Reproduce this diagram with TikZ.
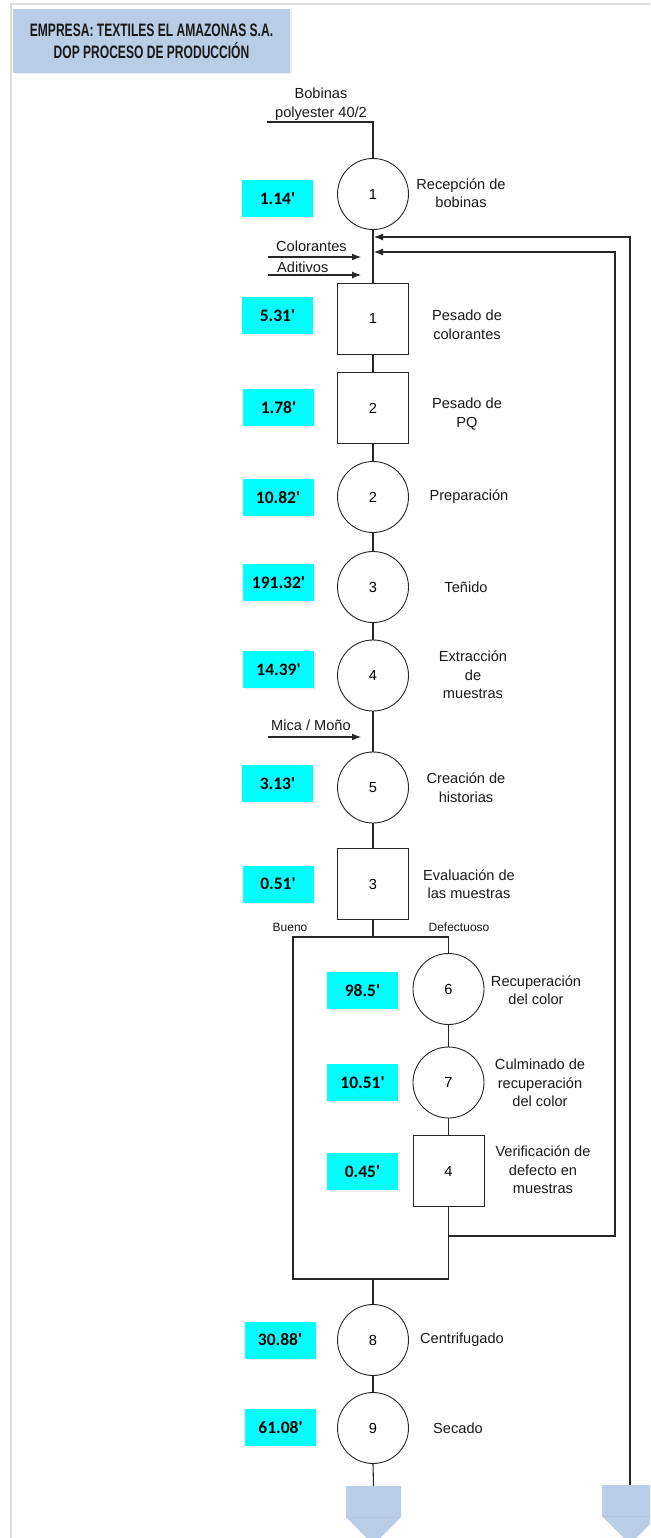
\documentclass[tikz,border=0pt]{standalone}
\usepackage{fontspec}
\setmainfont{Liberation Sans}
\newfontfamily\timefont{Carlito}
\usetikzlibrary{arrows.meta,shadows}

\definecolor{titlefill}{HTML}{B9CDE5}
\definecolor{connfill}{HTML}{B9CDE8}
\definecolor{timefill}{HTML}{00FFFF}
\definecolor{framegray}{HTML}{DCDCDC}

\tikzset{
  flow/.style={line width=1.1pt, draw=black!85},
  opcircle/.style={circle, draw=black!85, line width=0.9pt, fill=white,
    minimum size=71pt, inner sep=0pt, font=\fontsize{14.6}{17}\selectfont},
  inspbox/.style={rectangle, draw=black!85, line width=0.9pt, fill=white,
    minimum size=71pt, inner sep=0pt, font=\fontsize{14.6}{17}\selectfont},
  lbl/.style={align=center, inner sep=0pt, font=\fontsize{14.6}{18.5}\selectfont, text=black!90},
  small/.style={inner sep=0pt, font=\fontsize{12}{14}\selectfont, text=black!90},
  timebox/.style={rectangle, fill=timefill, minimum width=71pt, minimum height=37pt,
    inner sep=0pt, font=\timefont\bfseries\fontsize{17.5}{19}\selectfont,
    drop shadow={opacity=0.12, shadow xshift=1.5pt, shadow yshift=-1.5pt}},
  arr/.style={flow, -{Latex[length=9pt,width=7pt]}},
}

\begin{document}
\begin{tikzpicture}[x=1pt,y=-1pt]
\useasboundingbox (0,0) rectangle (650,1538);
\clip (0,0) rectangle (650,1538);

% page frame
\draw[framegray, line width=2pt] (10.5,4.5) rectangle (700,1600);

% title
\node[rectangle, fill=titlefill, minimum width=277pt, minimum height=64pt, inner sep=0pt,
  drop shadow={opacity=0.15, shadow xshift=1.5pt, shadow yshift=-1.5pt},
  align=center, font=\bfseries\fontsize{18}{22}\selectfont, text=black!90]
  (title) at (151.5,41) {\scalebox{0.67}[1]{EMPRESA: TEXTILES EL AMAZONAS S.A.}\\
  \scalebox{0.67}[1]{DOP PROCESO DE PRODUCCI\'ON}};

% input of bobinas
\node[lbl] (bobtxt) at (321,104) {Bobinas\\polyester 40/2};
\coordinate (bobin) at (267,122);
\coordinate (bobcorner) at (373,122);

% main column of operations and inspections
\node[opcircle] (c1) at (373,194) {1};
\node[inspbox] (s1) at (373,318.5) {1};
\node[inspbox] (s2) at (373,408) {2};
\node[opcircle] (c2) at (373,497) {2};
\node[opcircle] (c3) at (373,587) {3};
\node[opcircle] (c4) at (373,675.5) {4};
\node[opcircle] (c5) at (373,787.5) {5};
\node[inspbox] (s3) at (373,884) {3};
\node[opcircle] (c6) at (448.5,989) {6};
\node[opcircle] (c7) at (448.5,1082.5) {7};
\node[inspbox] (s4) at (448.5,1171) {4};
\node[opcircle] (c8) at (373,1340) {8};
\node[opcircle] (c9) at (373,1428) {9};

% descriptions
\node[lbl] (l1) at (461,193) {Recepci\'on de\\bobinas};
\node[lbl] (l2) at (467,325) {Pesado de\\colorantes};
\node[lbl] (l3) at (467,414) {Pesado de\\PQ};
\node[lbl] (l4) at (469,497) {Preparaci\'on};
\node[lbl] (l5) at (466,587) {Te\~nido};
\node[lbl] (l6) at (473,675) {Extracci\'on\\de\\muestras};
\node[lbl] (l7) at (466,787.5) {Creaci\'on de\\historias};
\node[lbl] (l8) at (469,884) {Evaluaci\'on de\\las muestras};
\node[lbl] (l9) at (536,990) {Recuperaci\'on\\del color};
\node[lbl] (l10) at (540,1083) {Culminado de\\recuperaci\'on\\del color};
\node[lbl] (l11) at (543,1170) {Verificaci\'on de\\defecto en\\muestras};
\node[lbl] (l12) at (462,1340) {Centrifugado};
\node[lbl] (l13) at (458,1428) {Secado};

% times
\node[timebox] (t1) at (277.5,198.5) {1.14'};
\node[timebox] (t2) at (277.5,315.5) {5.31'};
\node[timebox] (t3) at (278.5,407.5) {1.78'};
\node[timebox] (t4) at (278,497.5) {10.82'};
\node[timebox] (t5) at (278.5,582.5) {191.32'};
\node[timebox] (t6) at (278.5,669.5) {14.39'};
\node[timebox] (t7) at (277.5,783.5) {3.13'};
\node[timebox] (t8) at (278,884) {0.51'};
\node[timebox] (t9) at (362.5,990.5) {98.5'};
\node[timebox] (t10) at (362.5,1082.5) {10.51'};
\node[timebox] (t11) at (362.5,1171.5) {0.45'};
\node[timebox] (t12) at (280,1340) {30.88'};
\node[timebox] (t13) at (280.5,1427.5) {61.08'};

% side inputs
\node[lbl, anchor=west] (coltxt) at (276,246) {Colorantes};
\node[lbl, anchor=west] (adtxt) at (277,267.5) {Aditivos};
\node[lbl, anchor=west] (micatxt) at (271,725) {Mica / Mo\~no};
\coordinate (colA) at (268,257);
\coordinate (colB) at (361,257);
\coordinate (adA) at (268,275);
\coordinate (adB) at (361,275);
\coordinate (micaA) at (268,737);
\coordinate (micaB) at (361,737);

% branch labels
\node[small] (bueno) at (290,927.5) {Bueno};
\node[small] (defect) at (459,927.5) {Defectuoso};

% branch and return coordinates
\coordinate (split) at (373,937);
\coordinate (bl) at (293,937);
\coordinate (br) at (448.5,937);
\coordinate (jl) at (293,1279);
\coordinate (jr) at (448.5,1279);
\coordinate (merge) at (373,1279);
\coordinate (tap) at (448.5,1236);
\coordinate (ir) at (615,1236);
\coordinate (it) at (615,252);
\coordinate (ret2) at (374,252);
\coordinate (ot) at (630,237);
\coordinate (ret1) at (374,237);

% off-page connectors
\coordinate (endL) at (373.5,1486);
\coordinate (endR) at (630,1485);
\fill[connfill] (346,1486) -- (401,1486) -- (401,1517) -- (373.5,1545) -- (346,1517) -- cycle;
\fill[connfill] (602,1485) -- (658,1485) -- (658,1516) -- (630,1544) -- (602,1516) -- cycle;
\draw[connfill!85!black, opacity=0.25, line width=0.6pt] (346,1517) -- (401,1517);
\draw[connfill!85!black, opacity=0.25, line width=0.6pt] (602,1516) -- (658,1516);

% connectors
\draw[flow] (bobin) -- (bobcorner) -- (c1.north);
\draw[flow] (c1) -- (s1);
\draw[flow] (s1) -- (s2);
\draw[flow] (s2) -- (c2);
\draw[flow] (c2) -- (c3);
\draw[flow] (c3) -- (c4);
\draw[flow] (c4) -- (c5);
\draw[flow] (c5) -- (s3);
\draw[flow] (s3.south) -- (split);
\draw[flow] (br) -- (bl) -- (jl) -- (jr);
\draw[flow] (br) -- (c6.north);
\draw[flow] (c6) -- (c7);
\draw[flow] (c7) -- (s4);
\draw[flow] (s4.south) -- (jr);
\draw[flow] (merge) -- (c8.north);
\draw[flow] (c8) -- (c9);
\draw[flow] (c9.south) -- (endL);

\draw[arr] (colA) -- (colB);
\draw[arr] (adA) -- (adB);
\draw[arr] (micaA) -- (micaB);

\draw[arr] (tap) -- (ir) -- (it) -- (ret2);
\draw[arr] (endR) -- (ot) -- (ret1);

\end{tikzpicture}
\end{document}
